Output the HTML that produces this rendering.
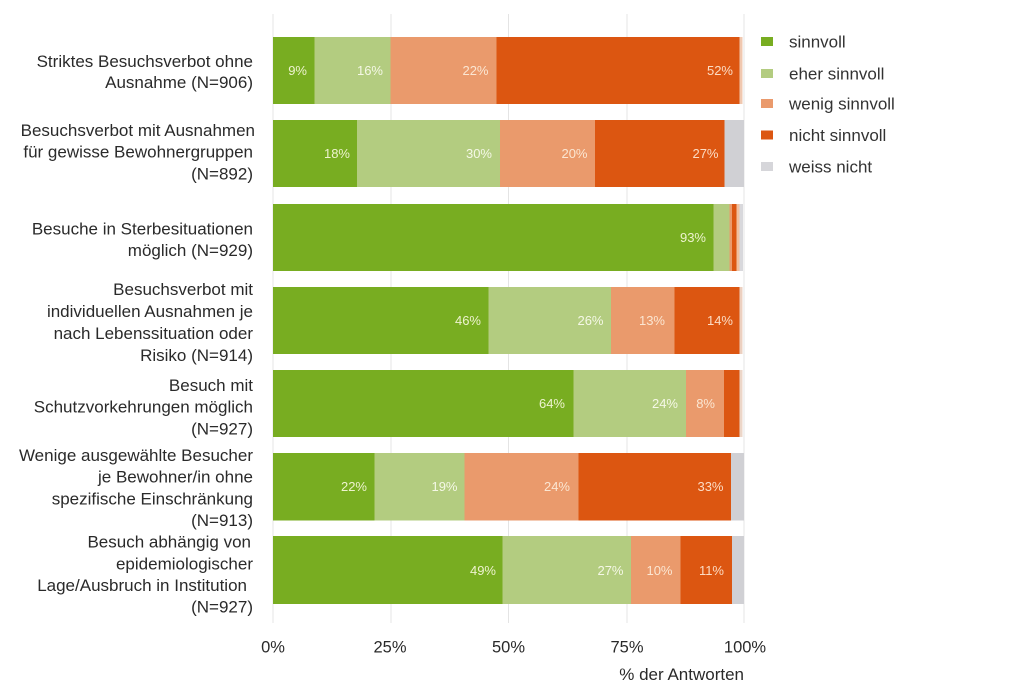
<!DOCTYPE html>
<html>
<head>
<meta charset="utf-8">
<style>
  html,body{margin:0;padding:0;background:#fff;}
  svg{display:block;}
  text{font-family:"Liberation Sans",Arial,sans-serif;}
  .yl{font-size:17px;fill:#2a2a2a;text-anchor:end;}
  .tk{font-size:16.5px;fill:#2a2a2a;text-anchor:middle;}
  .lg{font-size:17px;fill:#333;}
  .v{font-size:13px;text-anchor:end;}
  .vg{fill:#eef3cf;}
  .vl{fill:#f5f8e6;}
  .vs{fill:#fbe6d2;}
  .vo{fill:#fcdcc4;}
</style>
</head>
<body>
<svg width="1024" height="697" viewBox="0 0 1024 697" xmlns="http://www.w3.org/2000/svg">
  <rect width="1024" height="697" fill="#fff"/>
  <!-- grid -->
  <g stroke="#e4e4e4" stroke-width="1">
    <line x1="273" y1="14" x2="273" y2="623"/>
    <line x1="391" y1="14" x2="391" y2="623"/>
    <line x1="508.5" y1="14" x2="508.5" y2="623"/>
    <line x1="627" y1="14" x2="627" y2="623"/>
    <line x1="744" y1="14" x2="744" y2="623"/>
  </g>

  <!-- Row 1 -->
  <g>
    <rect x="273" y="37" width="41.5" height="67" fill="#78ad21"/>
    <rect x="314.5" y="37" width="76" height="67" fill="#b3cc80"/>
    <rect x="390.5" y="37" width="106" height="67" fill="#ea9a6c"/>
    <rect x="496.5" y="37" width="243" height="67" fill="#dc5611"/>
    <rect x="739.5" y="37" width="3" height="67" fill="#f0c8b0"/>
    <text class="v vg" x="307" y="75">9%</text>
    <text class="v vl" x="383" y="75">16%</text>
    <text class="v vs" x="488.5" y="75">22%</text>
    <text class="v vo" x="733" y="75">52%</text>
  </g>
  <!-- Row 2 -->
  <g>
    <rect x="273" y="120" width="84" height="67" fill="#78ad21"/>
    <rect x="357" y="120" width="143" height="67" fill="#b3cc80"/>
    <rect x="500" y="120" width="95" height="67" fill="#ea9a6c"/>
    <rect x="595" y="120" width="129.5" height="67" fill="#dc5611"/>
    <rect x="724.5" y="120" width="19.5" height="67" fill="#d0d0d4"/>
    <text class="v vg" x="350" y="158">18%</text>
    <text class="v vl" x="492" y="158">30%</text>
    <text class="v vs" x="587.5" y="158">20%</text>
    <text class="v vo" x="718.5" y="158">27%</text>
  </g>
  <!-- Row 3 -->
  <g>
    <rect x="273" y="204" width="440.5" height="67" fill="#78ad21"/>
    <rect x="713.5" y="204" width="16" height="67" fill="#b3cc80"/>
    <rect x="729.5" y="204" width="2.5" height="67" fill="#ea9a6c"/>
    <rect x="732" y="204" width="4.5" height="67" fill="#dc5611"/>
    <rect x="736.5" y="204" width="3" height="67" fill="#f0c0a0"/>
    <rect x="739.5" y="204" width="3.5" height="67" fill="#d8d8dc"/>
    <text class="v vg" x="706" y="242">93%</text>
  </g>
  <!-- Row 4 -->
  <g>
    <rect x="273" y="287" width="215.5" height="67" fill="#78ad21"/>
    <rect x="488.5" y="287" width="122.5" height="67" fill="#b3cc80"/>
    <rect x="611" y="287" width="63.5" height="67" fill="#ea9a6c"/>
    <rect x="674.5" y="287" width="65" height="67" fill="#dc5611"/>
    <rect x="739.5" y="287" width="3" height="67" fill="#ecd0c0"/>
    <text class="v vg" x="481" y="325">46%</text>
    <text class="v vl" x="603.5" y="325">26%</text>
    <text class="v vs" x="665" y="325">13%</text>
    <text class="v vo" x="733" y="325">14%</text>
  </g>
  <!-- Row 5 -->
  <g>
    <rect x="273" y="370" width="300.5" height="67" fill="#78ad21"/>
    <rect x="573.5" y="370" width="112.5" height="67" fill="#b3cc80"/>
    <rect x="686" y="370" width="38" height="67" fill="#ea9a6c"/>
    <rect x="724" y="370" width="15.5" height="67" fill="#dc5611"/>
    <rect x="739.5" y="370" width="3" height="67" fill="#ecd6c8"/>
    <text class="v vg" x="565" y="408">64%</text>
    <text class="v vl" x="678" y="408">24%</text>
    <text class="v vs" x="715" y="408">8%</text>
  </g>
  <!-- Row 6 -->
  <g>
    <rect x="273" y="453" width="101.5" height="67.5" fill="#78ad21"/>
    <rect x="374.5" y="453" width="90" height="67.5" fill="#b3cc80"/>
    <rect x="464.5" y="453" width="114" height="67.5" fill="#ea9a6c"/>
    <rect x="578.5" y="453" width="152.5" height="67.5" fill="#dc5611"/>
    <rect x="731" y="453" width="13" height="67.5" fill="#d0d0d4"/>
    <text class="v vg" x="367" y="491">22%</text>
    <text class="v vl" x="457.5" y="491">19%</text>
    <text class="v vs" x="570" y="491">24%</text>
    <text class="v vo" x="723.5" y="491">33%</text>
  </g>
  <!-- Row 7 -->
  <g>
    <rect x="273" y="536" width="229.5" height="68" fill="#78ad21"/>
    <rect x="502.5" y="536" width="128.5" height="68" fill="#b3cc80"/>
    <rect x="631" y="536" width="49.5" height="68" fill="#ea9a6c"/>
    <rect x="680.5" y="536" width="51.5" height="68" fill="#dc5611"/>
    <rect x="732" y="536" width="12" height="68" fill="#d0d0d4"/>
    <text class="v vg" x="496" y="575">49%</text>
    <text class="v vl" x="623.5" y="575">27%</text>
    <text class="v vs" x="672.5" y="575">10%</text>
    <text class="v vo" x="724" y="575">11%</text>
  </g>

  <!-- Y labels -->
  <text class="yl" x="253" y="67">Striktes Besuchsverbot ohne</text>
  <text class="yl" x="253" y="88">Ausnahme (N=906)</text>

  <text class="yl" x="255" y="136">Besuchsverbot mit Ausnahmen</text>
  <text class="yl" x="253" y="157.7">für gewisse Bewohnergruppen</text>
  <text class="yl" x="253" y="179.3">(N=892)</text>

  <text class="yl" x="253" y="234.3">Besuche in Sterbesituationen</text>
  <text class="yl" x="253" y="256">möglich (N=929)</text>

  <text class="yl" x="253" y="295">Besuchsverbot mit</text>
  <text class="yl" x="253" y="317">individuellen Ausnahmen je</text>
  <text class="yl" x="253" y="339">nach Lebenssituation oder</text>
  <text class="yl" x="253" y="361">Risiko (N=914)</text>

  <text class="yl" x="253" y="391">Besuch mit</text>
  <text class="yl" x="253" y="412.7">Schutzvorkehrungen möglich</text>
  <text class="yl" x="253" y="434.5">(N=927)</text>

  <text class="yl" x="253" y="461">Wenige ausgewählte Besucher</text>
  <text class="yl" x="253" y="482.7">je Bewohner/in ohne</text>
  <text class="yl" x="253" y="504.3">spezifische Einschränkung</text>
  <text class="yl" x="253" y="526">(N=913)</text>

  <text class="yl" x="251" y="547.7">Besuch abhängig von</text>
  <text class="yl" x="253" y="569.3">epidemiologischer</text>
  <text class="yl" x="247" y="591">Lage/Ausbruch in Institution</text>
  <text class="yl" x="253" y="612.7">(N=927)</text>

  <!-- X ticks -->
  <text class="tk" x="273" y="652.5">0%</text>
  <text class="tk" x="390" y="652.5">25%</text>
  <text class="tk" x="508.5" y="652.5">50%</text>
  <text class="tk" x="627" y="652.5">75%</text>
  <text class="tk" x="745" y="652.5">100%</text>
  <text x="744" y="680" style="font-size:17px;fill:#2a2a2a;text-anchor:end;">% der Antworten</text>

  <!-- Legend -->
  <rect x="761" y="37" width="12" height="9" fill="#78ad21"/>
  <text class="lg" x="789" y="47.5">sinnvoll</text>
  <rect x="761" y="69" width="12" height="9" fill="#b3cc80"/>
  <text class="lg" x="789" y="79.3">eher sinnvoll</text>
  <rect x="761" y="99" width="12" height="9" fill="#ea9a6c"/>
  <text class="lg" x="789" y="109.3">wenig sinnvoll</text>
  <rect x="761" y="130.5" width="12" height="9" fill="#dc5611"/>
  <text class="lg" x="789" y="141">nicht sinnvoll</text>
  <rect x="761" y="162" width="12" height="9" fill="#d6d6da"/>
  <text class="lg" x="789" y="172.7">weiss nicht</text>
</svg>
</body>
</html>
